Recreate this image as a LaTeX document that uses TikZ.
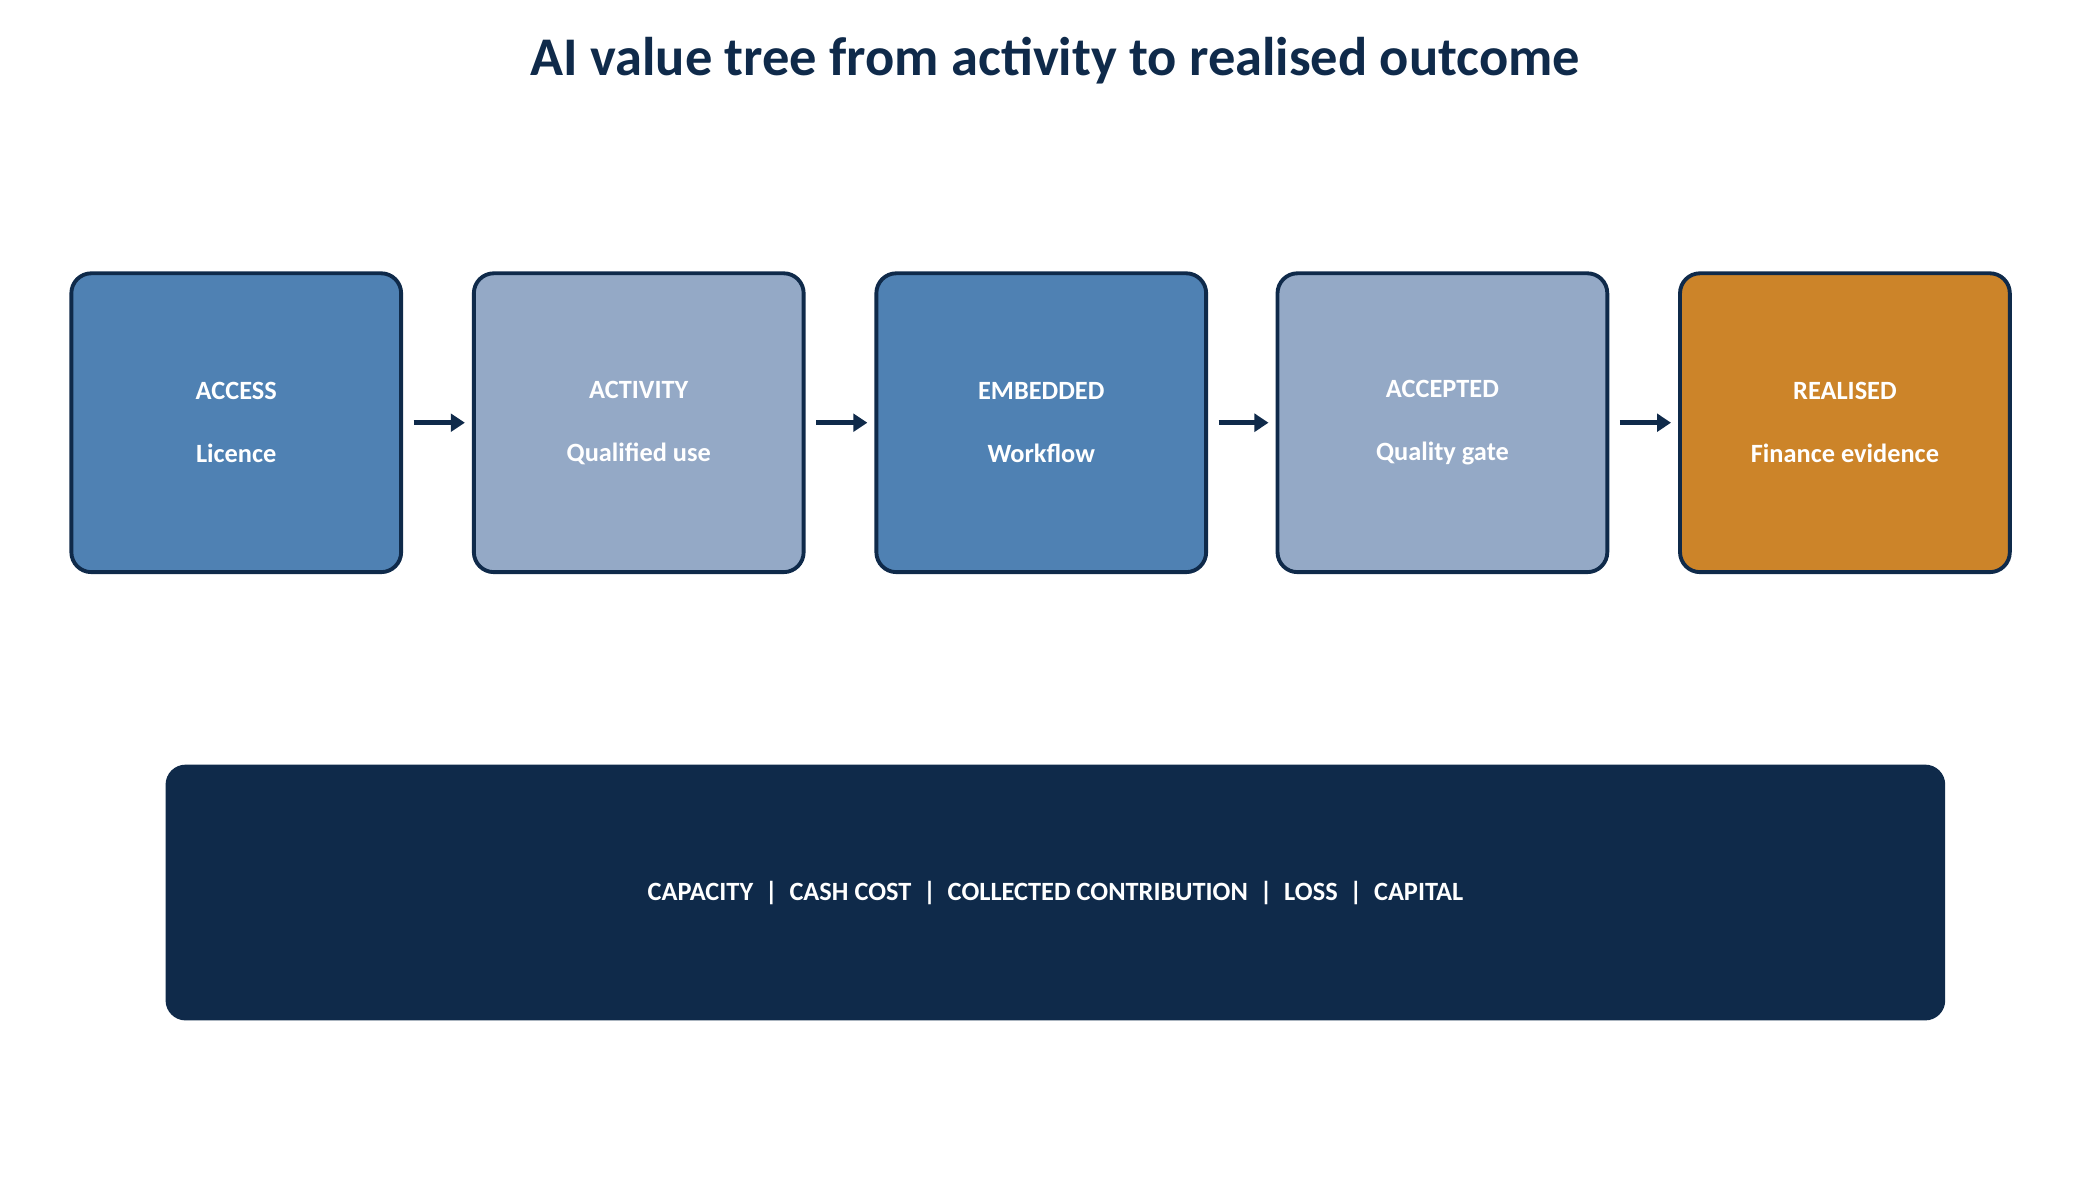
\documentclass[tikz,border=0pt]{standalone}
\usepackage{fontspec}
\setmainfont{Carlito}
\usetikzlibrary{arrows.meta}
\definecolor{navy}{HTML}{0F2A4A}
\definecolor{mblue}{HTML}{4F81B3}
\definecolor{lblue}{HTML}{94A9C6}
\definecolor{gold}{HTML}{CC8429}
\begin{document}
\begin{tikzpicture}[x=0.013462cm,y=-0.013462cm,
 box/.style={draw=navy,line width=1.1pt,rounded corners=0.2cm,minimum width=245*0.013462cm,minimum height=222*0.013462cm,text=white,font=\bfseries\fontsize{7.5}{18}\selectfont,align=center},
 arr/.style={draw=navy,line width=1.5pt,-{Triangle[length=4pt,width=5pt]}}]
\useasboundingbox (0,0) rectangle (1560,877);
\node[font=\bfseries\fontsize{15.5}{18}\selectfont,text=navy] (title) at (784,45) {AI value tree from activity to realised outcome};
\node[box,fill=mblue] (a) at (175.5,314) {ACCESS\\Licence};
\node[box,fill=lblue] (b) at (474.5,314) {ACTIVITY\\Qualified use};
\node[box,fill=mblue] (c) at (773.5,314) {EMBEDDED\\Workflow};
\node[box,fill=lblue] (d) at (1071.5,314) {ACCEPTED\\Quality gate};
\node[box,fill=gold] (e) at (1370.5,314) {REALISED\\Finance evidence};
\foreach \u/\v in {a/b,b/c,c/d,d/e} \draw[arr] ([xshift=3pt]\u.east) -- ([xshift=-2pt]\v.west);
\node[fill=navy,rounded corners=0.2cm,minimum width=1322*0.013462cm,minimum height=190*0.013462cm,text=white,font=\bfseries\fontsize{7.5}{9}\selectfont] (f) at (784,663) {CAPACITY\ \ |\ \ CASH COST\ \ |\ \ COLLECTED CONTRIBUTION\ \ |\ \ LOSS\ \ |\ \ CAPITAL};
\end{tikzpicture}
\end{document}
